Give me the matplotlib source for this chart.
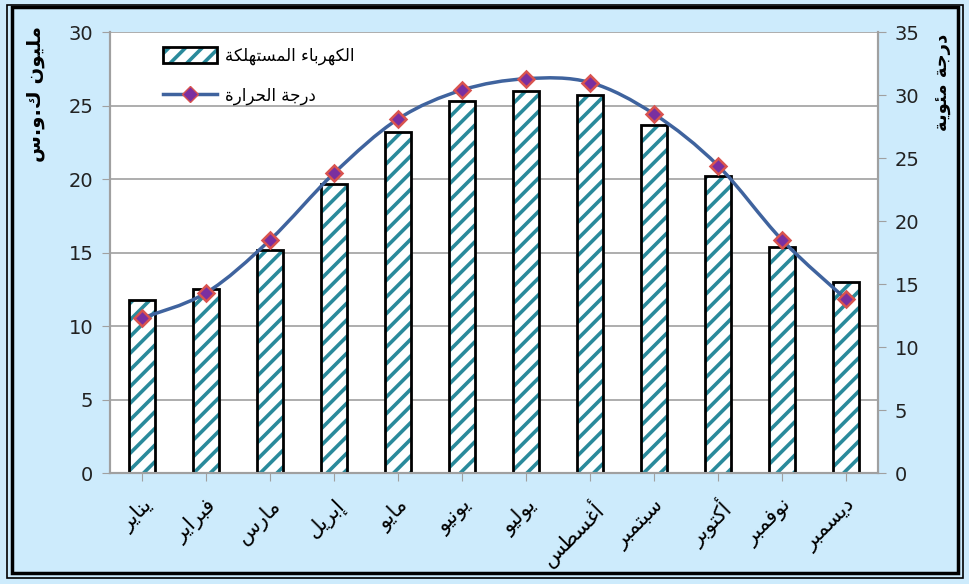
import numpy as np
import matplotlib.pyplot as plt
from matplotlib.patches import Rectangle, PathPatch, Patch
from matplotlib.lines import Line2D
from matplotlib.path import Path

months = ["يناير", "فبراير", "مارس", "إبريل", "مايو", "يونيو",
          "يوليو", "أغسطس", "سبتمبر", "أكتوبر", "نوفمبر", "ديسمبر"]
electricity = [11.8, 12.5, 15.2, 19.7, 23.2, 25.3, 26.0, 25.7, 23.7, 20.2, 15.4, 13.0]
temperature = [12.3, 14.3, 18.5, 23.8, 28.1, 30.4, 31.3, 31.0, 28.5, 24.4, 18.5, 13.8]

label_left = "مليون ك.و.س"
label_right = "درجة مئوية"
legend_bars = "الكهرباء المستهلكة"
legend_line = "درجة الحرارة"

# arabic presentation forms: letter -> (first code, number of forms)
FORMS = {
    "ء": (0xFE80, 1), "آ": (0xFE81, 2), "أ": (0xFE83, 2), "ؤ": (0xFE85, 2),
    "إ": (0xFE87, 2), "ئ": (0xFE89, 4), "ا": (0xFE8D, 2), "ب": (0xFE8F, 4),
    "ة": (0xFE93, 2), "ت": (0xFE95, 4), "ث": (0xFE99, 4), "ج": (0xFE9D, 4),
    "ح": (0xFEA1, 4), "خ": (0xFEA5, 4), "د": (0xFEA9, 2), "ذ": (0xFEAB, 2),
    "ر": (0xFEAD, 2), "ز": (0xFEAF, 2), "س": (0xFEB1, 4), "ش": (0xFEB5, 4),
    "ص": (0xFEB9, 4), "ض": (0xFEBD, 4), "ط": (0xFEC1, 4), "ظ": (0xFEC5, 4),
    "ع": (0xFEC9, 4), "غ": (0xFECD, 4), "ف": (0xFED1, 4), "ق": (0xFED5, 4),
    "ك": (0xFED9, 4), "ل": (0xFEDD, 4), "م": (0xFEE1, 4), "ن": (0xFEE5, 4),
    "ه": (0xFEE9, 4), "و": (0xFEED, 2), "ى": (0xFEEF, 2), "ي": (0xFEF1, 4),
}


def ar(text):
    """shape arabic letters and reverse for left-to-right drawing"""
    out = []
    for i, c in enumerate(text):
        if c not in FORMS:
            out.append(c)
            continue
        base, n = FORMS[c]
        prev = text[i - 1] if i > 0 else ""
        nxt = text[i + 1] if i + 1 < len(text) else ""
        join_prev = prev in FORMS and FORMS[prev][1] == 4
        join_next = n == 4 and nxt in FORMS
        if n == 1:
            code = base
        elif join_prev and join_next:
            code = base + 3
        elif join_next:
            code = base + 2
        elif join_prev:
            code = base + 1
        else:
            code = base
        out.append(chr(code))
    return "".join(out)[::-1]


def smooth_path(xs, ys):
    """catmull-rom style bezier through the points (like excel smoothed line)"""
    pts = np.column_stack([xs, ys]).astype(float)
    verts = [pts[0]]
    codes = [Path.MOVETO]
    n = len(pts)
    for i in range(n - 1):
        p0 = pts[i - 1] if i > 0 else pts[i]
        p1 = pts[i]
        p2 = pts[i + 1]
        p3 = pts[i + 2] if i + 2 < n else pts[i + 1]
        c1 = p1 + (p2 - p0) / 6.0
        c2 = p2 - (p3 - p1) / 6.0
        verts += [c1, c2, p2]
        codes += [Path.CURVE4] * 3
    return Path(verts, codes)


bg = "#CDEBFC"
teal = "#2A8A9B"
line_blue = "#3F639E"
plt.rcParams["font.family"] = ["DejaVu Sans"]
plt.rcParams["hatch.linewidth"] = 2.6

fig = plt.figure(figsize=(9.7, 5.84), dpi=100, facecolor=bg)
ax = fig.add_axes([0.1134, 0.19, 0.7918, 0.755])
ax2 = ax.twinx()

x = np.arange(len(months))
ax.bar(x, electricity, width=0.42, color="white", edgecolor=teal, hatch="//",
       linewidth=0, zorder=2)
ax.bar(x, electricity, width=0.42, fill=False, edgecolor="black",
       linewidth=2, zorder=3)

ax.set_xlim(-0.5, len(months) - 0.5)
ax.set_ylim(0, 30)
ax.set_yticks(range(0, 31, 5))
ax.yaxis.grid(True, color="#A0A0A0", linewidth=1.2, zorder=0)
ax.set_axisbelow(True)
ax.set_xticks(x)
ax.set_xticklabels([ar(m) for m in months], rotation=45, ha="right",
                   rotation_mode="anchor", fontsize=15)
ax.tick_params(axis="x", length=6, color="#A0A0A0", pad=10)
ax.tick_params(axis="y", labelsize=14, length=6, color="#A0A0A0", pad=6,
               labelcolor="#222222")

ax2.set_ylim(0, 35)
ax2.set_yticks(range(0, 36, 5))
ax2.tick_params(axis="y", labelsize=14, length=6, color="#A0A0A0", pad=6,
                labelcolor="#222222")
ax2.add_patch(PathPatch(smooth_path(x, temperature), fill=False,
                        edgecolor=line_blue, linewidth=2.5, zorder=4))
ax2.plot(x, temperature, linestyle="none", marker="D", markersize=8,
         markerfacecolor="#7A2FA0", markeredgecolor="#D9534F",
         markeredgewidth=1.8, zorder=5)

for a in (ax, ax2):
    for side in ("left", "right", "bottom"):
        a.spines[side].set_color("#A0A0A0")
        a.spines[side].set_linewidth(1.5)
    a.spines["top"].set_visible(False)

ax.set_ylabel(ar(label_left), fontsize=14, fontweight="bold")
ax.yaxis.set_label_coords(-0.084, 0.86)
ax2.set_ylabel(ar(label_right), fontsize=13, fontweight="bold", rotation=90)
ax2.yaxis.set_label_coords(1.073, 0.885)

handles = [
    Patch(facecolor="white", edgecolor=teal, hatch="//", linewidth=0),
    Line2D([0], [0], color=line_blue, linewidth=2.5, marker="D", markersize=8,
           markerfacecolor="#7A2FA0", markeredgecolor="#D9534F"),
]
leg = ax2.legend(handles, [ar(legend_bars), ar(legend_line)], loc="upper left",
                 bbox_to_anchor=(0.05, 1.0), frameon=False, fontsize=12,
                 handlelength=3.2, handleheight=1.1, labelspacing=1.3,
                 handletextpad=0.5)
bar_key = leg.legend_handles[0]

# black outline around the bar legend key
fig.canvas.draw()
bb = bar_key.get_window_extent()
fig.add_artist(Rectangle((bb.x0, bb.y0), bb.width, bb.height,
                         transform=None, fill=False, edgecolor="black",
                         linewidth=2, zorder=10))

# double frame around the picture
fig.add_artist(Rectangle((0.007, 0.01), 0.986, 0.982, transform=fig.transFigure,
                         fill=False, edgecolor="black", linewidth=1.2))
fig.add_artist(Rectangle((0.012, 0.018), 0.976, 0.97, transform=fig.transFigure,
                         fill=False, edgecolor="black", linewidth=2.5))

fig.savefig("out.png", dpi=100, facecolor=bg)
